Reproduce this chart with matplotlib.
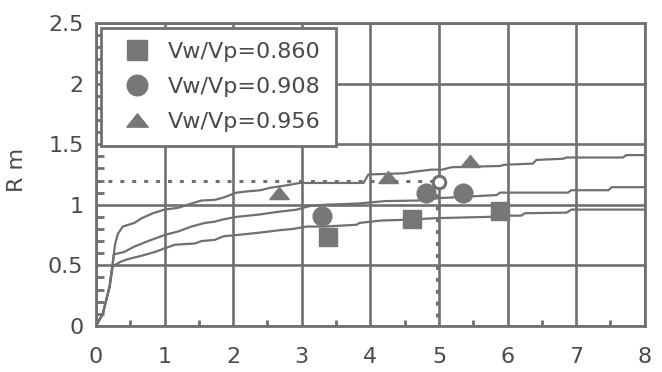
import matplotlib
matplotlib.use("Agg")
import matplotlib.pyplot as plt
from matplotlib.ticker import MultipleLocator
from matplotlib.transforms import offset_copy

# Rm growth curves for three velocity ratios
top_x = [0, 0.10, 0.20, 0.25, 0.28, 0.32, 0.39, 0.56, 0.67, 0.83, 1.00, 1.20, 1.39, 1.54,
         1.73, 1.86, 2.05, 2.20, 2.40, 2.54, 2.83, 2.97, 3.90, 3.97, 4.50, 4.60, 4.89, 5.05,
         5.18, 5.89, 5.95, 6.37, 6.42, 6.81, 6.86, 7.68, 7.73, 8.0]
top_y = [0, 0.10, 0.33, 0.55, 0.68, 0.76, 0.82, 0.85, 0.89, 0.93, 0.96, 0.975, 1.01, 1.035,
         1.04, 1.06, 1.10, 1.11, 1.12, 1.14, 1.165, 1.18, 1.18, 1.25, 1.26, 1.27, 1.29, 1.29,
         1.31, 1.32, 1.33, 1.34, 1.37, 1.38, 1.39, 1.39, 1.41, 1.41]

mid_x = [0, 0.10, 0.20, 0.24, 0.26, 0.41, 0.56, 0.76, 1.00, 1.20, 1.39, 1.59, 1.73, 1.86,
         2.05, 2.39, 2.63, 2.93, 3.12, 3.34, 3.82, 4.21, 4.69, 5.01, 5.84, 5.89, 6.88, 6.93,
         7.47, 7.52, 8.0]
mid_y = [0, 0.10, 0.33, 0.48, 0.59, 0.61, 0.655, 0.70, 0.75, 0.78, 0.82, 0.85, 0.86, 0.88,
         0.90, 0.92, 0.94, 0.96, 0.99, 1.00, 1.01, 1.03, 1.035, 1.055, 1.08, 1.10, 1.10, 1.12,
         1.12, 1.145, 1.145]

bot_x = [0, 0.10, 0.20, 0.24, 0.36, 0.46, 0.67, 0.86, 1.00, 1.15, 1.44, 1.54, 1.73, 1.86,
         2.05, 2.39, 2.68, 2.87, 3.07, 3.34, 3.80, 3.84, 4.16, 4.46, 4.99, 5.74, 5.80, 6.20,
         6.25, 6.86, 6.93, 8.0]
bot_y = [0, 0.10, 0.33, 0.49, 0.53, 0.55, 0.58, 0.61, 0.64, 0.67, 0.68, 0.70, 0.71, 0.74,
         0.75, 0.77, 0.79, 0.80, 0.82, 0.82, 0.835, 0.85, 0.87, 0.875, 0.89, 0.90, 0.91, 0.91,
         0.93, 0.935, 0.96, 0.96]

# Measured points
sq_x = [3.38, 4.60, 5.89]
sq_y = [0.73, 0.885, 0.95]
ci_x = [3.29, 4.81, 5.35]
ci_y = [0.91, 1.10, 1.10]
tr_x = [2.67, 4.26, 5.45]
tr_y = [1.10, 1.23, 1.36]

labels = ["Vw/Vp=0.860", "Vw/Vp=0.908", "Vw/Vp=0.956"]

# Reference point
ref_x = 5.0
ref_y = 1.19

x_ticks = [0, 1, 2, 3, 4, 5, 6, 7, 8]
y_ticks = [0, 0.5, 1, 1.5, 2, 2.5]
y_ticklabels = ["0", "0.5", "1", "1.5", "2", "2.5"]

GRAY = "#707070"
MARK = "#777777"
TEXT = "#4a4a4a"

fig = plt.figure(figsize=(6.62, 3.72), dpi=100)
ax = fig.add_axes([0.145, 0.124, 0.829, 0.814])

ax.set_xlim(0, 8)
ax.set_ylim(0, 2.5)
ax.set_xticks(x_ticks)
ax.set_xticklabels([str(v) for v in x_ticks])
ax.set_yticks(y_ticks)
ax.set_yticklabels(y_ticklabels)
ax.xaxis.set_minor_locator(MultipleLocator(0.5))
ax.yaxis.set_minor_locator(MultipleLocator(0.1))

ax.grid(True, which="major", color=GRAY, linewidth=1.9)
ax.set_axisbelow(True)
for sp in ax.spines.values():
    sp.set_color(GRAY)
    sp.set_linewidth(2.0)

ax.tick_params(which="major", length=0, labelsize=16, labelcolor=TEXT)
ax.tick_params(axis="x", which="major", pad=15)
ax.tick_params(axis="y", which="major", pad=9)
ax.tick_params(axis="x", which="minor", direction="in", length=4, width=2, color=GRAY)
ax.tick_params(axis="y", which="minor", direction="in", length=6, width=2, color=GRAY)

for xs, ys in [(top_x, top_y), (mid_x, mid_y), (bot_x, bot_y)]:
    ax.plot(xs, ys, color=GRAY, linewidth=1.6, zorder=3)

tri = [(-1, -0.62), (1, -0.62), (0, 0.62), (-1, -0.62)]
ax.plot(sq_x, sq_y, linestyle="none", marker="s", markersize=12.5, color=MARK,
        label=labels[0], zorder=4)
ax.plot(ci_x, ci_y, linestyle="none", marker="o", markersize=13.5, color=MARK,
        label=labels[1], zorder=4)
ax.plot(tr_x, tr_y, linestyle="none", marker=tri, markersize=14, color=MARK,
        label=labels[2], zorder=4)

dots = dict(color=GRAY, linewidth=2.2, linestyle=(0, (1.3, 2.6)),
            dash_capstyle="butt", zorder=5)
ax.plot([0, ref_x], [ref_y + 0.01, ref_y + 0.01], **dots)
shift = offset_copy(ax.transData, fig=fig, x=-2, y=0, units="dots")
ax.plot([ref_x, ref_x], [ref_y, 0], transform=shift, **dots)
ax.plot([ref_x], [ref_y], linestyle="none", marker="o", markersize=9,
        markerfacecolor="white", markeredgecolor=GRAY, markeredgewidth=2.2, zorder=6)

ax.set_ylabel("R m", fontsize=16, color=TEXT)
ax.yaxis.set_label_coords(-0.126, 0.515)

leg = ax.legend(loc="upper left", bbox_to_anchor=(0.009, 0.0, 0.428, 0.983),
                mode="expand", borderaxespad=0,
                fontsize=16, frameon=True, fancybox=False, handlelength=2.0,
                handletextpad=0.4, borderpad=0.62, labelspacing=0.67,
                markerscale=1.1, edgecolor=GRAY)
leg.get_frame().set_linewidth(2.0)
leg.get_frame().set_facecolor("white")
leg.get_frame().set_alpha(1)
for t in leg.get_texts():
    t.set_color(TEXT)

fig.savefig("out.png", dpi=100)
